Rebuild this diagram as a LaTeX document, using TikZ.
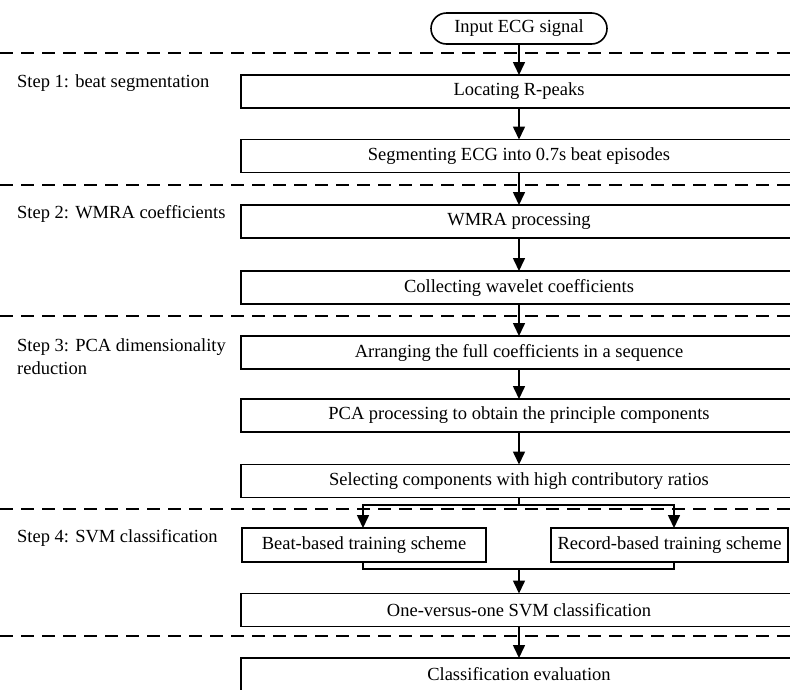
\documentclass[tikz,border=0pt]{standalone}
\usepackage{fontspec}
\setmainfont{Liberation Serif}
\usetikzlibrary{arrows.meta}
\begin{document}
\begin{tikzpicture}[x=1pt,y=-1pt,
  ln/.style={line width=1.6pt},
  arr/.style={line width=1.6pt,-{Triangle[width=12pt,length=13pt]}},
  sep/.style={line width=1.5pt,dash pattern=on 13pt off 8pt},
  box/.style={draw,line width=1.6pt,inner sep=0pt,outer sep=0pt,minimum height=33pt,font=\fontsize{18.5}{22}\selectfont},
  wide/.style={box,minimum width=556pt},
  steplabel/.style={anchor=west,inner sep=0pt,align=left,font=\fontsize{18.5}{23}\selectfont}]
\useasboundingbox (0,0) rectangle (790,689);
\fill[white] (0,0) rectangle (790,689);
\clip (0,0) rectangle (790,689);
% separators
\foreach \yy in {53,185,316,509,636} \draw[sep] (0,\yy) -- (790,\yy);
% nodes
\node[box,minimum width=176pt,minimum height=31pt,rounded corners=15.5pt] (in) at (519,28.5) {Input ECG signal};
\node[wide] (b1) at (519,91.5) {Locating R-peaks};
\node[wide] (b2) at (519,156) {Segmenting ECG into 0.7s beat episodes};
\node[wide] (b3) at (519,221.5) {WMRA processing};
\node[wide] (b4) at (519,287.5) {Collecting wavelet coefficients};
\node[wide] (b5) at (519,352.5) {Arranging the full coefficients in a sequence};
\node[wide] (b6) at (519,415.5) {PCA processing to obtain the principle components};
\node[wide] (b7) at (519,481) {Selecting components with high contributory ratios};
\node[box,minimum width=244pt,minimum height=34pt] (bb) at (364,545) {Beat-based training scheme};
\node[box,minimum width=237pt,minimum height=34pt] (br) at (669.5,545) {Record-based training scheme};
\node[wide] (b8) at (519,610) {One-versus-one SVM classification};
\node[wide] (b9) at (519,674.5) {Classification evaluation};
% step labels
\node[steplabel] (s1) at (17,83) {Step 1: beat segmentation};
\node[steplabel] (s2) at (17,214) {Step 2: WMRA coefficients};
\node[steplabel] (s3) at (17,356.5) {Step 3: PCA dimensionality\\reduction};
\node[steplabel] (s4) at (17,538) {Step 4: SVM classification};
% connectors
\draw[arr] (in) -- (b1);
\draw[arr] (b1) -- (b2);
\draw[arr] (b2) -- (b3);
\draw[arr] (b3) -- (b4);
\draw[arr] (b4) -- (b5);
\draw[arr] (b5) -- (b6);
\draw[arr] (b6) -- (b7);
\coordinate (la) at (363,0);
\coordinate (ra) at (674,0);
\coordinate (sm) at (519,505);
\coordinate (jm) at (519,569);
\draw[ln] (b7.south) -- (sm);
\draw[arr] (sm) -| (bb.north -| la);
\draw[arr] (sm) -| (br.north -| ra);
\draw[ln] (bb.south -| la) |- (jm) -| (br.south -| ra);
\draw[arr] (jm) -- (b8);
\draw[arr] (b8) -- (b9);
\end{tikzpicture}
\end{document}
